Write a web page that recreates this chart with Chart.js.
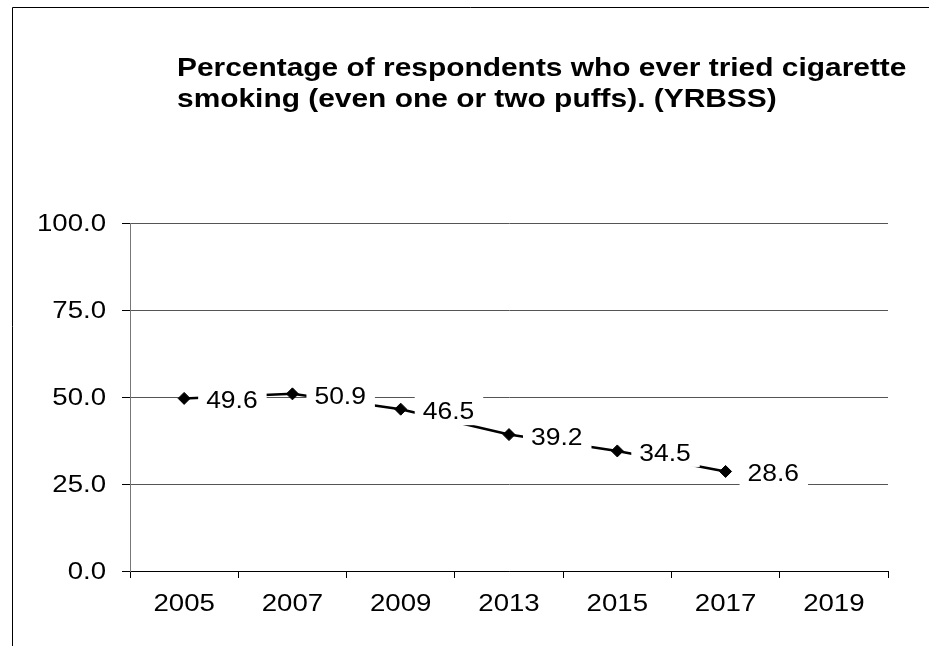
<!DOCTYPE html>
<html>
<head>
<meta charset="utf-8">
<script src="https://cdn.jsdelivr.net/npm/chart.js@4.4.1/dist/chart.umd.min.js"></script>
<style>
  html, body { margin: 0; padding: 0; background: #fff; }
  #wrap { width: 929px; height: 646px; }
</style>
</head>
<body>
<div id="wrap"><canvas id="c" width="929" height="646"></canvas></div>
<script>
// Survey years and the share who ever tried cigarette smoking (%)
const years = ['2005', '2007', '2009', '2013', '2015', '2017', '2019'];
const everTried = [49.6, 50.9, 46.5, 39.2, 34.5, 28.6, null];
const yTicks = [0, 25, 50, 75, 100];
const titleLines = [
  'Percentage of respondents who ever tried cigarette',
  'smoking (even one or two puffs). (YRBSS)'
];

const FONT = "'Liberation Sans', Arial, sans-serif";
const STRETCH = 1.15; // text is drawn slightly wide

// Draw text horizontally widened; align: 'left' | 'right' | 'center'
function wideText(ctx, text, x, baseline, align) {
  const w = ctx.measureText(text).width * STRETCH;
  let left = x;
  if (align === 'right') left = x - w;
  else if (align === 'center') left = x - w / 2;
  ctx.save();
  ctx.translate(left, baseline);
  ctx.scale(STRETCH, 1);
  ctx.textAlign = 'left';
  ctx.textBaseline = 'alphabetic';
  ctx.fillText(text, 0, 0);
  ctx.restore();
  return w;
}

// Outer frame (top and left edges only)
const framePlugin = {
  id: 'frame',
  beforeDraw(chart) {
    const ctx = chart.ctx;
    ctx.save();
    ctx.fillStyle = '#fff';
    ctx.fillRect(0, 0, chart.width, chart.height);
    ctx.strokeStyle = '#000';
    ctx.lineWidth = 1;
    ctx.beginPath();
    ctx.moveTo(12.5, 646);
    ctx.lineTo(12.5, 7.5);
    ctx.lineTo(929, 7.5);
    ctx.stroke();
    ctx.restore();
  }
};

// Axis tick labels, placed from the chart's own scales
const tickLabelPlugin = {
  id: 'tickLabels',
  afterDraw(chart) {
    const ctx = chart.ctx;
    const xs = chart.scales.x, ys = chart.scales.y;
    ctx.save();
    ctx.fillStyle = '#000';
    ctx.font = '24px ' + FONT;
    yTicks.forEach(v => {
      const y = ys.getPixelForValue(v);
      wideText(ctx, v.toFixed(1), ys.right - 24, y + 8, 'right');
    });
    years.forEach((lab, i) => {
      const x = xs.getPixelForValue(i);
      wideText(ctx, lab, x, xs.top + 40, 'center');
    });
    ctx.restore();
  }
};

// Left-aligned two-line bold title
const titlePlugin = {
  id: 'leftTitle',
  afterDraw(chart) {
    const ctx = chart.ctx;
    ctx.save();
    ctx.fillStyle = '#000';
    ctx.font = 'bold 26px ' + FONT;
    titleLines.forEach((line, i) => wideText(ctx, line, 177, 76 + i * 31, 'left'));
    ctx.restore();
  }
};

// Value labels on white boxes to the right of each marker
const valueLabelPlugin = {
  id: 'valueLabels',
  afterDatasetsDraw(chart) {
    const ctx = chart.ctx;
    const meta = chart.getDatasetMeta(0);
    ctx.save();
    ctx.font = '23px ' + FONT;
    meta.data.forEach((pt, i) => {
      const v = everTried[i];
      if (v === null || v === undefined) return;
      const text = v.toFixed(1);
      const w = ctx.measureText(text).width * STRETCH;
      const bx = pt.x + 14;
      const bw = w + 17;
      const bh = 30;
      ctx.fillStyle = '#fff';
      ctx.fillRect(bx, pt.y + 1 - bh / 2, bw, bh);
      ctx.fillStyle = '#000';
      wideText(ctx, text, bx + 8, pt.y + 10, 'left');
    });
    ctx.restore();
  }
};

new Chart(document.getElementById('c'), {
  type: 'line',
  data: {
    labels: years,
    datasets: [{
      data: everTried,
      borderColor: '#000',
      backgroundColor: '#000',
      borderWidth: 2.5,
      pointStyle: 'rectRot',
      pointRadius: 6,
      pointBackgroundColor: '#000',
      pointBorderColor: '#000',
      pointBorderWidth: 1,
      tension: 0,
      fill: false
    }]
  },
  options: {
    responsive: false,
    animation: false,
    devicePixelRatio: 1,
    layout: { padding: { top: 223, right: 41, left: 0, bottom: 0 } },
    plugins: {
      legend: { display: false },
      title: { display: false },
      tooltip: { enabled: false }
    },
    scales: {
      x: {
        type: 'category',
        offset: true,
        afterFit(scale) { scale.height = 75; },
        grid: {
          offset: true,
          drawOnChartArea: false,
          drawTicks: true,
          tickLength: 7,
          tickColor: '#000',
          tickWidth: 1
        },
        border: { display: true, color: '#000', width: 1 },
        ticks: { display: false, autoSkip: false, maxRotation: 0 }
      },
      y: {
        min: 0,
        max: 100,
        afterFit(scale) { scale.width = 130; },
        afterBuildTicks(scale) { scale.ticks = yTicks.map(v => ({ value: v })); },
        grid: {
          color: '#555',
          lineWidth: 1,
          borderDash: [1, 1],
          drawTicks: true,
          tickLength: 8,
          tickColor: '#000',
          tickBorderDash: []
        },
        border: { display: true, color: '#777', width: 1 },
        ticks: { display: false }
      }
    }
  },
  plugins: [framePlugin, valueLabelPlugin, tickLabelPlugin, titlePlugin]
});
</script>
</body>
</html>
